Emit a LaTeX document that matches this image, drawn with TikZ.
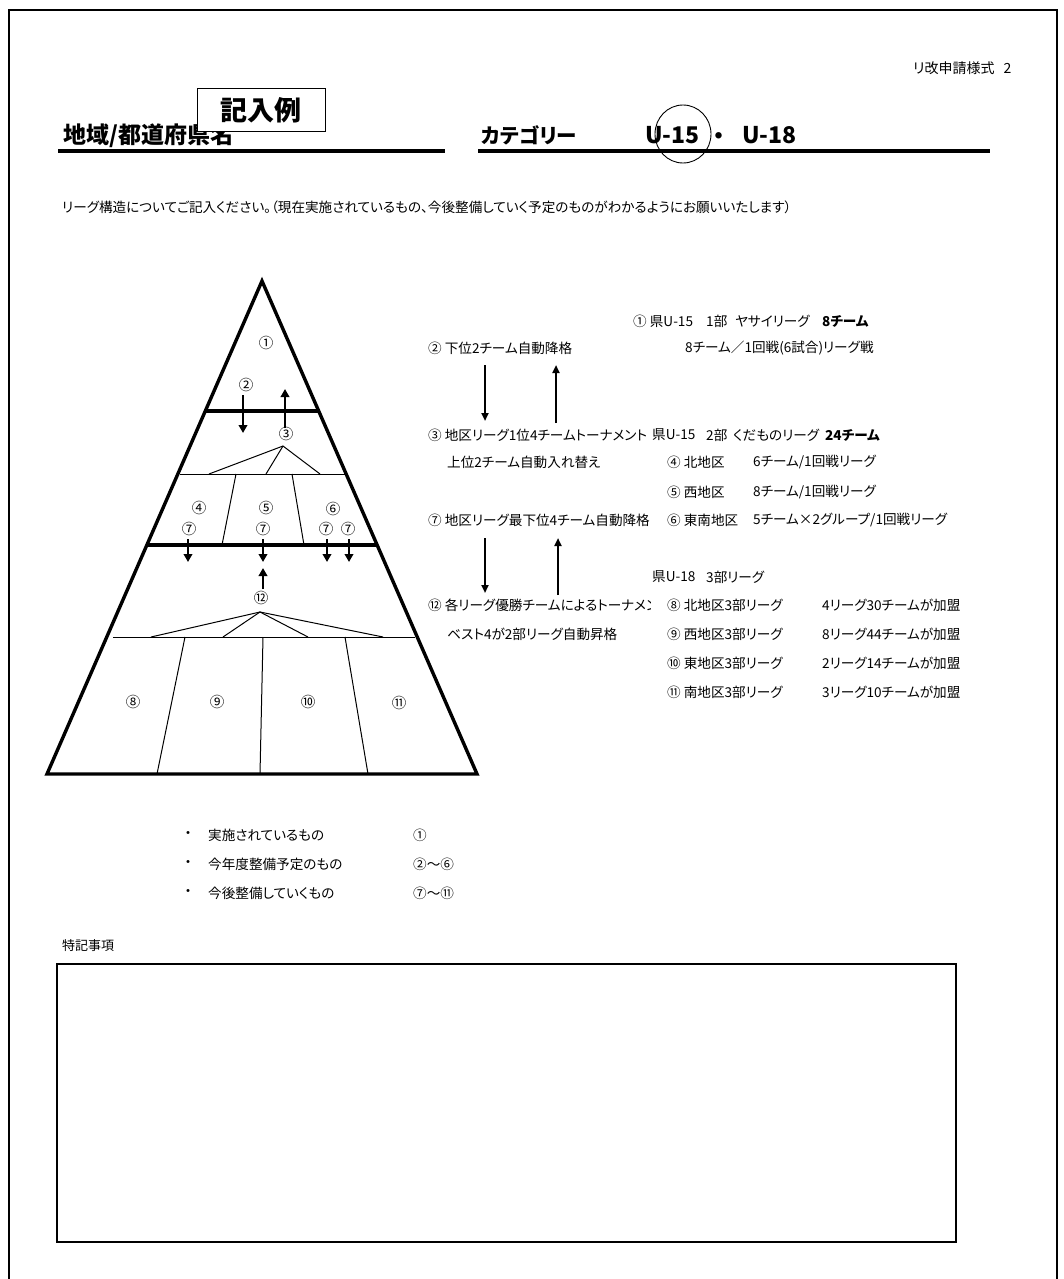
\documentclass[tikz,border=0pt]{standalone}
\usepackage{fontspec}
\setmainfont{Noto Sans CJK JP}[RawFeature=+palt]
\usetikzlibrary{arrows.meta}
\begin{document}
\begin{tikzpicture}[x=1pt,y=-1pt,
  txt/.style={anchor=west,inner sep=0pt,font=\fontsize{13.6}{15}\selectfont},
  num/.style={inner sep=0pt,font=\fontsize{14.5}{16}\selectfont},
  ttl/.style={anchor=west,inner sep=0pt,font=\bfseries\fontsize{23}{26}\selectfont},
  thinline/.style={line width=1pt},
  bandline/.style={line width=3.2pt},
  outline/.style={line width=3.4pt,line join=miter},
  uline/.style={line width=4pt},
  parr/.style={line width=2.4pt,-{Triangle[width=8.5pt,length=8pt]}},
  rarr/.style={line width=2pt,-{Triangle[width=7pt,length=8pt]}},
]
\useasboundingbox (0,0) rectangle (1063,1279);
\fill[white] (0,0) rectangle (1063,1279);
% page frame
\draw[line width=2pt] (9,1279) -- (9,10) -- (1057,10) -- (1057,1279);

% header
\node[txt,font=\fontsize{14}{16}\selectfont] (form) at (913,68) {リ改申請様式\hspace{9pt}2};
\node[ttl] (region) at (63,136) {地域/都道府県名};
\draw[uline] (58,150.5) -- (445,150.5);
\node[draw,line width=1pt,fill=white,minimum width=128pt,minimum height=43pt,inner sep=0pt,
      font=\bfseries\fontsize{27}{30}\selectfont] (example) at (261,110.5) {記入例};
\node[ttl,font=\bfseries\fontsize{20.5}{23}\selectfont] (cat) at (481,135) {カテゴリー};
\node[ttl] (u15) at (645,135) {U-15};
\node[inner sep=0pt,font=\bfseries\fontsize{23}{26}\selectfont] (dot) at (719,139) {・};
\node[ttl] (u18) at (742,135) {U-18};
\draw[uline] (478,150.5) -- (990,150.5);
\draw[line width=0.9pt] (683,134) ellipse [x radius=28, y radius=29];

\node[txt] (instr) at (62,207)
  {リーグ構造についてご記入ください。（現在実施されているもの、今後整備していく予定のものがわかるようにお願いいたします）};

% pyramid
\coordinate (apex) at (262,281);
\coordinate (bl) at (47,774);
\coordinate (br) at (477,774);
\draw[outline] (apex) -- (bl) -- (br) -- cycle;
\draw[bandline] (205,411) -- (319,411);
\draw[thinline] (180,474) -- (347,474);
\draw[thinline] (209,474) -- (283,446) -- (320,474);
\draw[thinline] (283,446) -- (266,474);
\draw[thinline] (236,474) -- (222,545);
\draw[thinline] (292,474) -- (304,545);
\draw[bandline] (148,545) -- (376,545);
\draw[thinline] (113,637) -- (415,637);
\draw[thinline] (151,637) -- (260,612) -- (383,637);
\draw[thinline] (223,637) -- (260,612) -- (308,637);
\draw[thinline] (185,637) -- (157,774);
\draw[thinline] (263,637) -- (260,774);
\draw[thinline] (345,637) -- (368,774);

\node[num] (p1) at (266,343) {①};
\node[num] (p2) at (246,385) {②};
\node[num] (p3) at (286,434) {③};
\node[num] (p4) at (199,508) {④};
\node[num] (p5) at (266,508) {⑤};
\node[num] (p6) at (333,509) {⑥};
\node[num] (p7a) at (189,529) {⑦};
\node[num] (p7b) at (263,529) {⑦};
\node[num] (p7c) at (326,529) {⑦};
\node[num] (p7d) at (348,529) {⑦};
\node[num] (p12) at (261,598) {⑫};
\node[num] (p8) at (133,702) {⑧};
\node[num] (p9) at (217,702) {⑨};
\node[num] (p10) at (308,702) {⑩};
\node[num] (p11) at (399,703) {⑪};

\coordinate (d1s) at (243,395); \coordinate (d1e) at (243,433);
\coordinate (u1s) at (285,428); \coordinate (u1e) at (285,389);
\draw[parr] (d1s) -- (d1e);
\draw[parr] (u1s) -- (u1e);
\foreach \x [count=\i] in {188,263,327,349} {
  \coordinate (d2s\i) at (\x,539); \coordinate (d2e\i) at (\x,562);
  \draw[parr] (d2s\i) -- (d2e\i);
}
\coordinate (u2s) at (263,589); \coordinate (u2e) at (263,568);
\draw[parr] (u2s) -- (u2e);

% right text block
\node[txt] (r1a) at (633,321) {① 県U-15};
\node[txt] (r1b) at (706,321) {1部};
\node[txt] (r1c) at (735,321) {ヤサイリーグ};
\node[txt,font=\bfseries\fontsize{13.6}{15}\selectfont] (r1d) at (822,321) {8チーム};
\node[txt] (r2a) at (428,348) {② 下位2チーム自動降格};
\node[txt] (r2b) at (685,348) {8チーム／1回戦(6試合)リーグ戦};
\node[txt] (r3a) at (428,435) {③ 地区リーグ1位4チームトーナメント};
\node[txt] (r3b) at (652,435) {県U-15};
\node[txt] (r3c) at (706,435) {2部};
\node[txt] (r3d) at (733,435) {くだものリーグ};
\node[txt,font=\bfseries\fontsize{13.6}{15}\selectfont] (r3e) at (825,435) {24チーム};
\node[txt] (r4a) at (447,462) {上位2チーム自動入れ替え};
\node[txt] (r4b) at (667,462) {④ 北地区};
\node[txt] (r4c) at (753,462) {6チーム/1回戦リーグ};
\node[txt] (r5b) at (667,492) {⑤ 西地区};
\node[txt] (r5c) at (753,492) {8チーム/1回戦リーグ};
\begin{scope}
  \clip (420,505) rectangle (650,620);
  \node[txt] (r6a) at (428,520) {⑦ 地区リーグ最下位4チーム自動降格};
  \node[txt] (r8a) at (428,605) {⑫ 各リーグ優勝チームによるトーナメント};
\end{scope}
\node[txt] (r6b) at (667,520) {⑥ 東南地区};
\node[txt] (r6c) at (753,520) {5チーム×2グループ/1回戦リーグ};
\node[txt] (r7a) at (652,577) {県U-18};
\node[txt] (r7b) at (706,577) {3部リーグ};
\node[txt] (r8b) at (667,605) {⑧ 北地区3部リーグ};
\node[txt] (r8c) at (822,605) {4リーグ30チームが加盟};
\node[txt] (r9a) at (447,634) {ベスト4が2部リーグ自動昇格};
\node[txt] (r9b) at (667,634) {⑨ 西地区3部リーグ};
\node[txt] (r9c) at (822,634) {8リーグ44チームが加盟};
\node[txt] (r10b) at (667,663) {⑩ 東地区3部リーグ};
\node[txt] (r10c) at (822,663) {2リーグ14チームが加盟};
\node[txt] (r11b) at (667,692) {⑪ 南地区3部リーグ};
\node[txt] (r11c) at (822,692) {3リーグ10チームが加盟};

\coordinate (rd1s) at (485,365); \coordinate (rd1e) at (485,421);
\coordinate (ru1s) at (556,423); \coordinate (ru1e) at (556,365);
\draw[rarr] (rd1s) -- (rd1e);
\draw[rarr] (ru1s) -- (ru1e);
\coordinate (rd2s) at (485,538); \coordinate (rd2e) at (485,593);
\coordinate (ru2s) at (558,595); \coordinate (ru2e) at (558,538);
\draw[rarr] (rd2s) -- (rd2e);
\draw[rarr] (ru2s) -- (ru2e);

% legend
\node[num] (b1) at (188,835) {・};
\node[num] (b2) at (188,864) {・};
\node[num] (b3) at (188,893) {・};
\node[txt] (l1) at (208,835) {実施されているもの};
\node[txt] (l2) at (208,864) {今年度整備予定のもの};
\node[txt] (l3) at (208,893) {今後整備していくもの};
\node[txt] (n1) at (413,835) {①};
\node[txt] (n2) at (413,864) {②〜⑥};
\node[txt] (n3) at (413,893) {⑦〜⑪};

% special notes
\node[txt,font=\fontsize{13}{15}\selectfont] (notes) at (62,946) {特記事項};
\draw[line width=2.5pt] (57,964) rectangle (956,1242);
\end{tikzpicture}
\end{document}
